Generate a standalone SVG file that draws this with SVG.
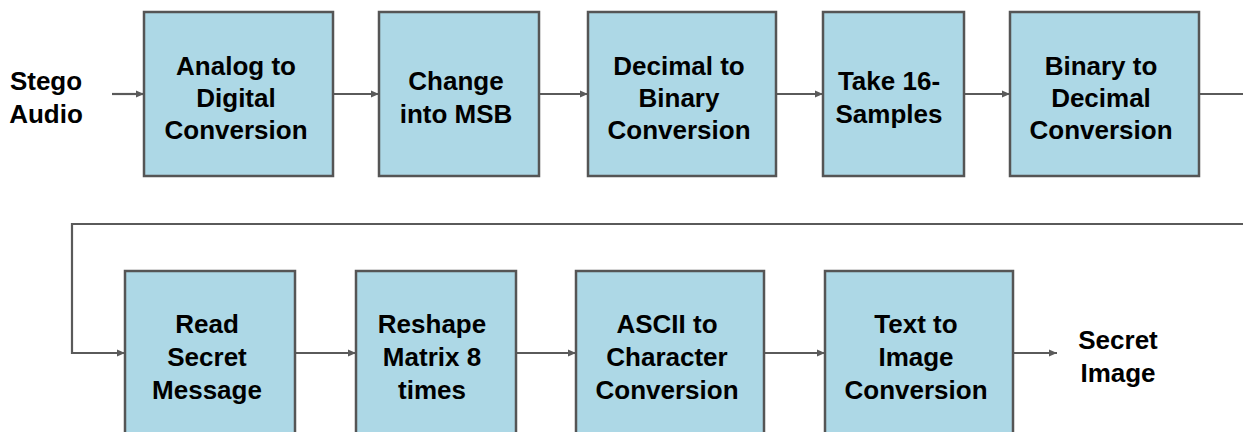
<svg xmlns="http://www.w3.org/2000/svg" width="1243" height="432" viewBox="0 0 1243 432">
<style>
.box{fill:#add8e6;stroke:#555555;stroke-width:2.5}
.lbl{font-family:"Liberation Sans",Arial,sans-serif;font-weight:bold;font-size:26px;fill:#000;text-anchor:middle}
.con{fill:none;stroke:#5a5a5a;stroke-width:2.2}
</style>
<defs>
<marker id="ah" markerWidth="8" markerHeight="8" refX="8" refY="4" orient="auto" markerUnits="userSpaceOnUse">
<path d="M0,0.5 L8,4 L0,7.5 Z" fill="#5a5a5a"/>
</marker>
</defs>
<rect width="1243" height="432" fill="#ffffff"/>
<g id="connectors">
<line class="con" x1="112" y1="94" x2="144" y2="94" marker-end="url(#ah)"/>
<line class="con" x1="333" y1="94" x2="379" y2="94" marker-end="url(#ah)"/>
<line class="con" x1="539" y1="94" x2="588" y2="94" marker-end="url(#ah)"/>
<line class="con" x1="776" y1="94" x2="823" y2="94" marker-end="url(#ah)"/>
<line class="con" x1="964" y1="94" x2="1010" y2="94" marker-end="url(#ah)"/>
<line class="con" x1="1199" y1="94" x2="1243" y2="94"/>
<polyline class="con" points="1243,224 72,224 72,353 125,353" marker-end="url(#ah)"/>
<line class="con" x1="295" y1="353" x2="356" y2="353" marker-end="url(#ah)"/>
<line class="con" x1="516" y1="353" x2="576" y2="353" marker-end="url(#ah)"/>
<line class="con" x1="764" y1="353" x2="825" y2="353" marker-end="url(#ah)"/>
<line class="con" x1="1013" y1="353" x2="1057" y2="353" marker-end="url(#ah)"/>
</g>
<g id="stego-audio">
<text class="lbl" x="46" y="90">Stego</text>
<text class="lbl" x="46" y="123">Audio</text>
</g>
<g id="analog-to-digital">
<rect class="box" x="144" y="12" width="189" height="164"/>
<text class="lbl" x="236" y="75">Analog to</text>
<text class="lbl" x="236" y="107">Digital</text>
<text class="lbl" x="236" y="139">Conversion</text>
</g>
<g id="change-msb">
<rect class="box" x="379" y="12" width="160" height="164"/>
<text class="lbl" x="456" y="90">Change</text>
<text class="lbl" x="456" y="123">into MSB</text>
</g>
<g id="decimal-to-binary">
<rect class="box" x="588" y="12" width="188" height="164"/>
<text class="lbl" x="679" y="75">Decimal to</text>
<text class="lbl" x="679" y="107">Binary</text>
<text class="lbl" x="679" y="139">Conversion</text>
</g>
<g id="take-samples">
<rect class="box" x="823" y="12" width="141" height="164"/>
<text class="lbl" x="889" y="90">Take 16-</text>
<text class="lbl" x="889" y="123">Samples</text>
</g>
<g id="binary-to-decimal">
<rect class="box" x="1010" y="12" width="189" height="164"/>
<text class="lbl" x="1101" y="75">Binary to</text>
<text class="lbl" x="1101" y="107">Decimal</text>
<text class="lbl" x="1101" y="139">Conversion</text>
</g>
<g id="read-secret">
<rect class="box" x="125" y="271" width="170" height="170"/>
<text class="lbl" x="207" y="333">Read</text>
<text class="lbl" x="207" y="366">Secret</text>
<text class="lbl" x="207" y="399">Message</text>
</g>
<g id="reshape-matrix">
<rect class="box" x="356" y="271" width="160" height="170"/>
<text class="lbl" x="432" y="333">Reshape</text>
<text class="lbl" x="432" y="366">Matrix 8</text>
<text class="lbl" x="432" y="399">times</text>
</g>
<g id="ascii-to-char">
<rect class="box" x="576" y="271" width="188" height="170"/>
<text class="lbl" x="667" y="333">ASCII to</text>
<text class="lbl" x="667" y="366">Character</text>
<text class="lbl" x="667" y="399">Conversion</text>
</g>
<g id="text-to-image">
<rect class="box" x="825" y="271" width="188" height="170"/>
<text class="lbl" x="916" y="333">Text to</text>
<text class="lbl" x="916" y="366">Image</text>
<text class="lbl" x="916" y="399">Conversion</text>
</g>
<g id="secret-image">
<text class="lbl" x="1118" y="349">Secret</text>
<text class="lbl" x="1118" y="382">Image</text>
</g>
</svg>
